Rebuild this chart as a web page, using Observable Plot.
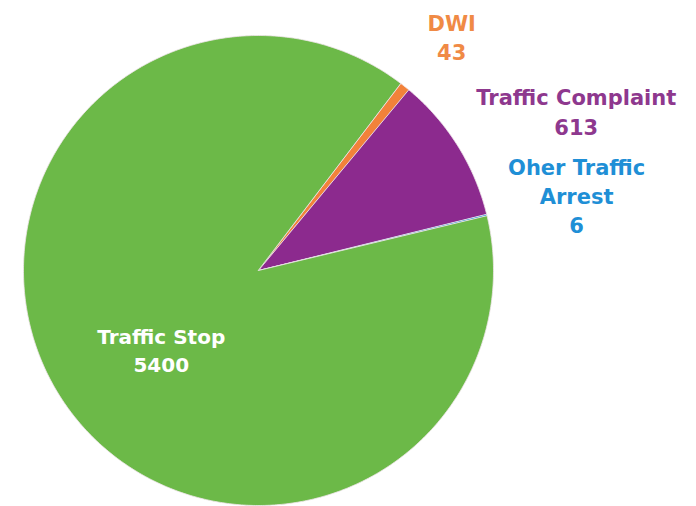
<!DOCTYPE html>
<html>
<head>
<meta charset="utf-8">
<script src="https://cdn.jsdelivr.net/npm/d3@7"></script>
<script src="https://cdn.jsdelivr.net/npm/@observablehq/plot@0.6"></script>
<style>
  html, body { margin: 0; padding: 0; background: #ffffff; }
  #chart svg { display: block; }
</style>
</head>
<body>
<div id="chart"></div>
<script>
// Data
const categories = ["DWI", "Traffic Complaint", "Oher Traffic\nArrest", "Traffic Stop"];
const values = [43, 613, 6, 5400];
const sliceColors = ["#f2823a", "#8c2a8e", "#1f8fd8", "#6cb948"];
const labelColors = ["#f08a45", "#8e388e", "#1f8fd6", "#ffffff"];

// Layout (style / geometry only)
const startDeg = 37.2;            // first slice starts here, clockwise from 12 o'clock
const labelRadius = [1.28, 1.5, 1.38, 0.535];
const labelDx = [6, 19, 3, 8];
const labelDy = [1, 27, 1, 10];
const labelSize = [21, 21, 21, 20];
const labelLH = [1.38, 1.42, 1.36, 1.4];

const pie = d3.pie().sort(null).value(d => d)
  .startAngle(startDeg * Math.PI / 180)
  .endAngle(startDeg * Math.PI / 180 + 2 * Math.PI)(values);

// Polygon vertices for each slice (unit circle)
const polys = [];
pie.forEach((p, i) => {
  polys.push({k: i, x: 0, y: 0});
  const n = Math.max(2, Math.ceil((p.endAngle - p.startAngle) / 0.01));
  for (let j = 0; j <= n; j++) {
    const a = p.startAngle + (p.endAngle - p.startAngle) * j / n;
    polys.push({k: i, x: Math.sin(a), y: Math.cos(a)});
  }
});

const labels = pie.map((p, i) => {
  const a = (p.startAngle + p.endAngle) / 2;
  return {
    text: categories[i] + "\n" + values[i],
    x: labelRadius[i] * Math.sin(a),
    y: labelRadius[i] * Math.cos(a),
    color: labelColors[i], i
  };
});

const W = 696, H = 506, cx = 258, cy = 270, R = 235;

const chart = Plot.plot({
  width: W,
  height: H,
  margin: 0,
  x: {domain: [-cx / R, (W - cx) / R], range: [0, W], axis: null},
  y: {domain: [-(H - cy) / R, cy / R], range: [H, 0], axis: null},
  style: {background: "#ffffff"},
  marks: [
    Plot.line(polys, {
      x: "x", y: "y", z: "k",
      curve: "linear-closed",
      fill: d => sliceColors[d.k],
      stroke: "#efe4ea",
      strokeWidth: 0.8,
      strokeLinejoin: "round"
    }),
    ...labels.map(d => Plot.text([d], {
      x: "x", y: "y", text: "text",
      fill: d.color,
      dx: labelDx[d.i], dy: labelDy[d.i],
      fontFamily: "'DejaVu Sans', sans-serif",
      fontWeight: "bold",
      fontSize: labelSize[d.i],
      lineHeight: labelLH[d.i]
    }))
  ]
});

document.getElementById("chart").appendChild(chart);
</script>
</body>
</html>
